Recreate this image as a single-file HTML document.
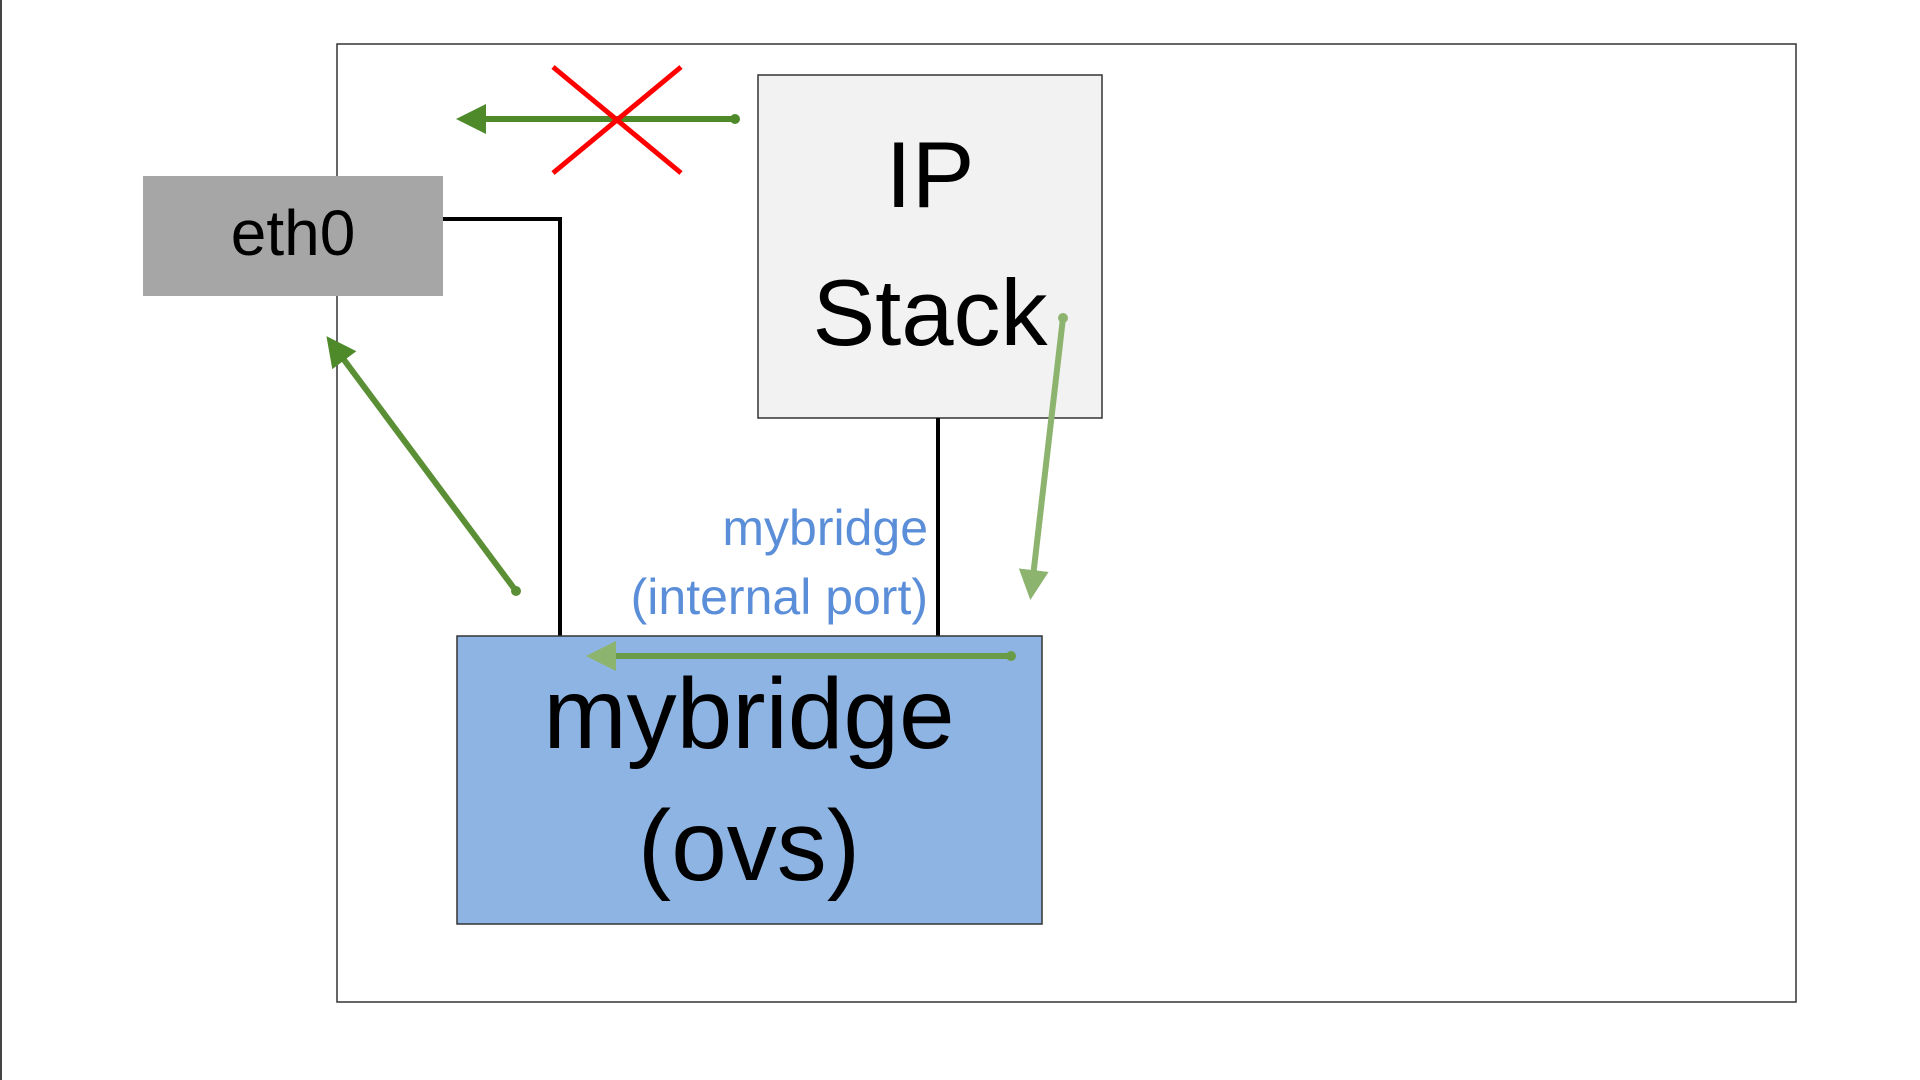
<!DOCTYPE html>
<html><head><meta charset="utf-8"><style>
html,body{margin:0;padding:0;background:#fff;width:1920px;height:1080px;overflow:hidden}
svg text{font-family:"Liberation Sans",sans-serif}
</style></head><body>
<svg width="1920" height="1080" viewBox="0 0 1920 1080" xmlns="http://www.w3.org/2000/svg">
<defs>
<marker id="ag" markerWidth="5" markerHeight="5" refX="4" refY="2.5" orient="auto" markerUnits="strokeWidth"><path d="M0,0 L5,2.5 L0,5 z" fill="#4e8a2a"/></marker>
<marker id="al" markerWidth="5" markerHeight="5" refX="4" refY="2.5" orient="auto" markerUnits="strokeWidth"><path d="M0,0 L5,2.5 L0,5 z" fill="#8db46e"/></marker>
</defs>
<line x1="1" y1="0" x2="1" y2="1080" stroke="#444" stroke-width="2"/>
<rect x="337" y="44" width="1459" height="958" fill="#fff" stroke="#333" stroke-width="1.5"/>
<rect x="143" y="176" width="300" height="120" fill="#a6a6a6"/>
<text x="293" y="255" font-size="64" text-anchor="middle" fill="#000">eth0</text>
<rect x="758" y="75" width="344" height="343" fill="#f2f2f2" stroke="#333" stroke-width="1.5"/>
<text x="930" y="207" font-size="94" text-anchor="middle" fill="#000">IP</text>
<text x="930" y="345" font-size="94" text-anchor="middle" fill="#000">Stack</text>
<polyline points="443,219 560,219 560,636" fill="none" stroke="#000" stroke-width="4"/>
<line x1="938" y1="418" x2="938" y2="636" stroke="#000" stroke-width="4"/>
<text x="928" y="545" font-size="50" text-anchor="end" fill="#5b8ed8">mybridge</text>
<text x="928" y="614" font-size="50" text-anchor="end" fill="#5b8ed8">(internal port)</text>
<rect x="457" y="636" width="585" height="288" fill="#8eb4e3" stroke="#333" stroke-width="1.5"/>
<text x="749" y="748" font-size="100" text-anchor="middle" fill="#000">mybridge</text>
<text x="749" y="880" font-size="100" text-anchor="middle" fill="#000">(ovs)</text>
<line x1="735" y1="119" x2="462" y2="119" stroke="#4e8a2a" stroke-width="6" marker-end="url(#ag)"/>
<circle cx="735" cy="119" r="5" fill="#4e8a2a"/>
<line x1="553" y1="67" x2="681" y2="173" stroke="#f00" stroke-width="5"/>
<line x1="553" y1="173" x2="681" y2="67" stroke="#f00" stroke-width="5"/>
<line x1="516" y1="591" x2="330" y2="341" stroke="#5a8f35" stroke-width="6" marker-end="url(#ag)"/>
<circle cx="516" cy="591" r="5" fill="#5a8f35"/>
<line x1="1063" y1="318" x2="1031" y2="594" stroke="#8db46e" stroke-width="6" marker-end="url(#al)"/>
<circle cx="1063" cy="318" r="5" fill="#8db46e"/>
<line x1="1011" y1="656" x2="592" y2="656" stroke="#6a9c48" stroke-width="6" marker-end="url(#al)"/>
<circle cx="1011" cy="656" r="5" fill="#6a9c48"/>
</svg>
</body></html>
